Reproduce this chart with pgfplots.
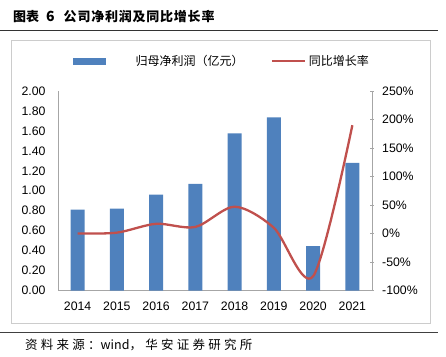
\documentclass[border=0pt]{standalone}
\usepackage{fontspec}
\usepackage{pgfplots}
\pgfplotsset{compat=1.18}
\setmainfont{Liberation Sans}
\newfontfamily\cjk{Noto Sans CJK SC}
\newfontfamily\cjksp{Noto Sans CJK SC}[LetterSpace=26]
\definecolor{barblue}{HTML}{4F81BD}
\definecolor{linered}{HTML}{C0504D}
\definecolor{axgray}{HTML}{A6A6A6}
\begin{document}
\begin{tikzpicture}
\path[use as bounding box] (0pt,0pt) rectangle (446pt,356pt);
% frame and rules
\draw[color=black!20, line width=0.8pt] (11pt,316pt) rectangle (430pt,33pt);
\draw[color=black!80, line width=1pt] (0pt,325.3pt) -- (438pt,325.3pt);
\draw[color=black!75, line width=1pt] (0pt,23.3pt) -- (438pt,23.3pt);
\node[anchor=west, inner sep=0pt] at (13pt,339pt) {\cjk\bfseries\fontsize{13}{15}\selectfont 图表\hspace{7pt}{\fontsize{14}{15}\selectfont 6}\hspace{9pt}\addfontfeature{LetterSpace=6}公司净利润及同比增长率};
\node[anchor=west, inner sep=0pt] at (25pt,11pt) {\fontsize{12.5}{15}\selectfont{\cjksp 资料来源：}{\cjk wind}{\cjksp ，华安证券研究所}};

\begin{axis}[
  at={(58pt,65.5pt)}, anchor=south west,
  scale only axis, width=314pt, height=199.5pt,
  xmin=-0.5, xmax=7.5, ymin=0, ymax=2,
  axis x line*=bottom, axis y line*=left,
  axis line style={draw=axgray, line width=0.8pt},
  major tick length=0pt,
  xtick={0,1,2,3,4,5,6,7},
  xticklabels={2014,2015,2016,2017,2018,2019,2020,2021},
  ytick={0,0.2,0.4,0.6,0.8,1.0,1.2,1.4,1.6,1.8,2.0},
  /pgf/number format/assume math mode=true,
  /pgf/number format/fixed, /pgf/number format/fixed zerofill, /pgf/number format/precision=2,
  tick label style={font=\fontsize{12.3}{14}\selectfont},
  yticklabel style={inner sep=0pt, xshift=-12.3pt},
  xticklabel style={inner sep=0pt, yshift=-11.5pt},
  ybar, bar width=14pt,
]
\addplot[fill=barblue, draw=none] coordinates {
(0,0.81) (1,0.82) (2,0.96) (3,1.07) (4,1.575) (5,1.735) (6,0.445) (7,1.28)};
\end{axis}

\begin{axis}[
  at={(58pt,65.5pt)}, anchor=south west,
  scale only axis, width=314pt, height=199.5pt,
  xmin=-0.5, xmax=7.5, ymin=-100, ymax=250,
  axis x line=none, axis y line*=right,
  axis line style={draw=axgray, line width=0.8pt},
  tick style={draw=axgray, line width=0.8pt},
  major tick length=4pt, tick align=center,
  ytick={-100,-50,0,50,100,150,200,250},
  yticklabel={\pgfmathprintnumber{\tick}\%},
  /pgf/number format/assume math mode=true,
  tick label style={font=\fontsize{12.3}{14}\selectfont},
  yticklabel style={inner sep=0pt, xshift=8pt},
  legend style={at={(0.0478,1.1504)}, anchor=west, draw=none, fill=none,
    inner sep=0pt, column sep=0pt,
    nodes={inner sep=0pt, font=\cjk\fontsize{12}{14}\selectfont}},
  legend columns=4,
]
\addlegendimage{legend image code/.code={\fill[barblue] (0pt,-3pt) rectangle (32pt,3pt); \path (62pt,0pt);}}
\addlegendentry{归母净利润（亿元）}
\addplot[color=linered, line width=2.3pt, smooth, no markers,
  legend image code/.code={\draw[linered, line width=2.3pt] (0pt,0pt) -- (33pt,0pt); \path (-27pt,0pt); \path (36pt,0pt);}]
  coordinates {(0,0) (1,1.5) (2,17) (3,11.5) (4,47) (5,10) (6,-75) (7,190)};
\addlegendentry{同比增长率}
\end{axis}
\end{tikzpicture}
\end{document}
